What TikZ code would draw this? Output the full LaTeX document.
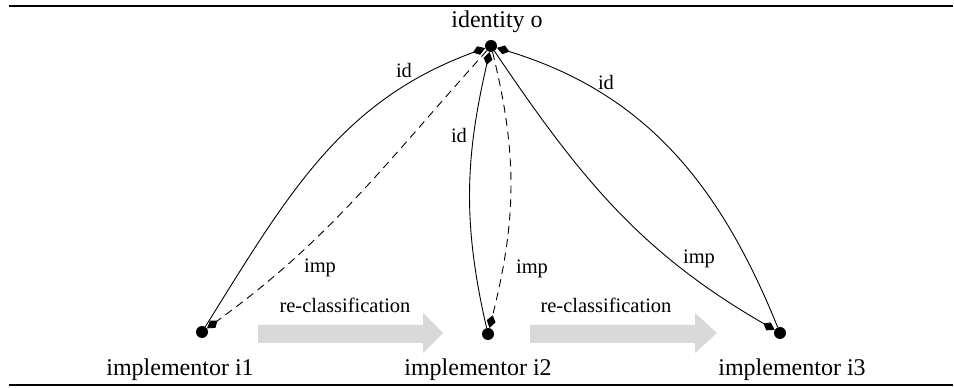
\documentclass[tikz,border=0pt]{standalone}
\usepackage{fontspec}
\setmainfont{Liberation Serif}
\usetikzlibrary{arrows.meta}
\definecolor{blockgray}{RGB}{217,217,217}
\begin{document}
\begin{tikzpicture}[x=1pt,y=1pt,
  dot/.style={circle,fill=black,inner sep=0pt,minimum size=12pt},
  nodelabel/.style={font=\fontsize{24}{28}\selectfont,inner sep=0pt,anchor=base},
  edgelabel/.style={font=\fontsize{20.5}{24}\selectfont,inner sep=0pt,anchor=base},
  rel/.style={line width=0.9pt,-{Kite[length=13pt,width=9pt,inset=6pt,fill=black]}},
  dashedrel/.style={rel,dash pattern=on 8pt off 5.5pt},
  rulestyle/.style={line width=2.5pt},
  block/.style={fill=blockgray}]
\useasboundingbox (0,0) rectangle (954,388);
% rules
\draw[rulestyle] (9,382) -- (953,382);
\draw[rulestyle] (9,3) -- (953,3);
% grey block arrows
\fill[block] (258,45) -- (423,45) -- (423,35) -- (443,55) -- (423,75) -- (423,63) -- (258,63) -- cycle;
\fill[block] (530,45) -- (695,45) -- (695,35) -- (717,55) -- (695,75) -- (695,63) -- (530,63) -- cycle;
% nodes
\node[dot] (o) at (491,342) {};
\node[dot] (i1) at (202,56) {};
\node[dot] (i2) at (488,54) {};
\node[dot] (i3) at (780,55) {};
% node labels
\node[nodelabel] (lo) at (497,360) {identity o};
\node[nodelabel] (li1) at (180,12) {implementor i1};
\node[nodelabel] (li2) at (478,12) {implementor i2};
\node[nodelabel] (li3) at (792,12) {implementor i3};
% edges
\draw[rel] (i1) to[out=58,in=200] (o);
\draw[dashedrel] (o) to[out=-132,in=36] (i1);
\draw[rel] (i2) to[out=103,in=-103] (o);
\draw[dashedrel] (o) to[out=-76,in=76] (i2);
\draw[rel] (o) to[out=-56,in=150] (i3);
\draw[rel] (i3) to[out=112,in=-17] (o);
% edge labels
\node[edgelabel] (l1) at (404,310) {id};
\node[edgelabel] (l2) at (320,115) {imp};
\node[edgelabel] (l3) at (459,245) {id};
\node[edgelabel] (l4) at (532,114) {imp};
\node[edgelabel] (l5) at (606,298) {id};
\node[edgelabel] (l6) at (699,124) {imp};
\node[edgelabel] (r1) at (345,75) {re-classification};
\node[edgelabel] (r2) at (606,75) {re-classification};
\end{tikzpicture}
\end{document}
